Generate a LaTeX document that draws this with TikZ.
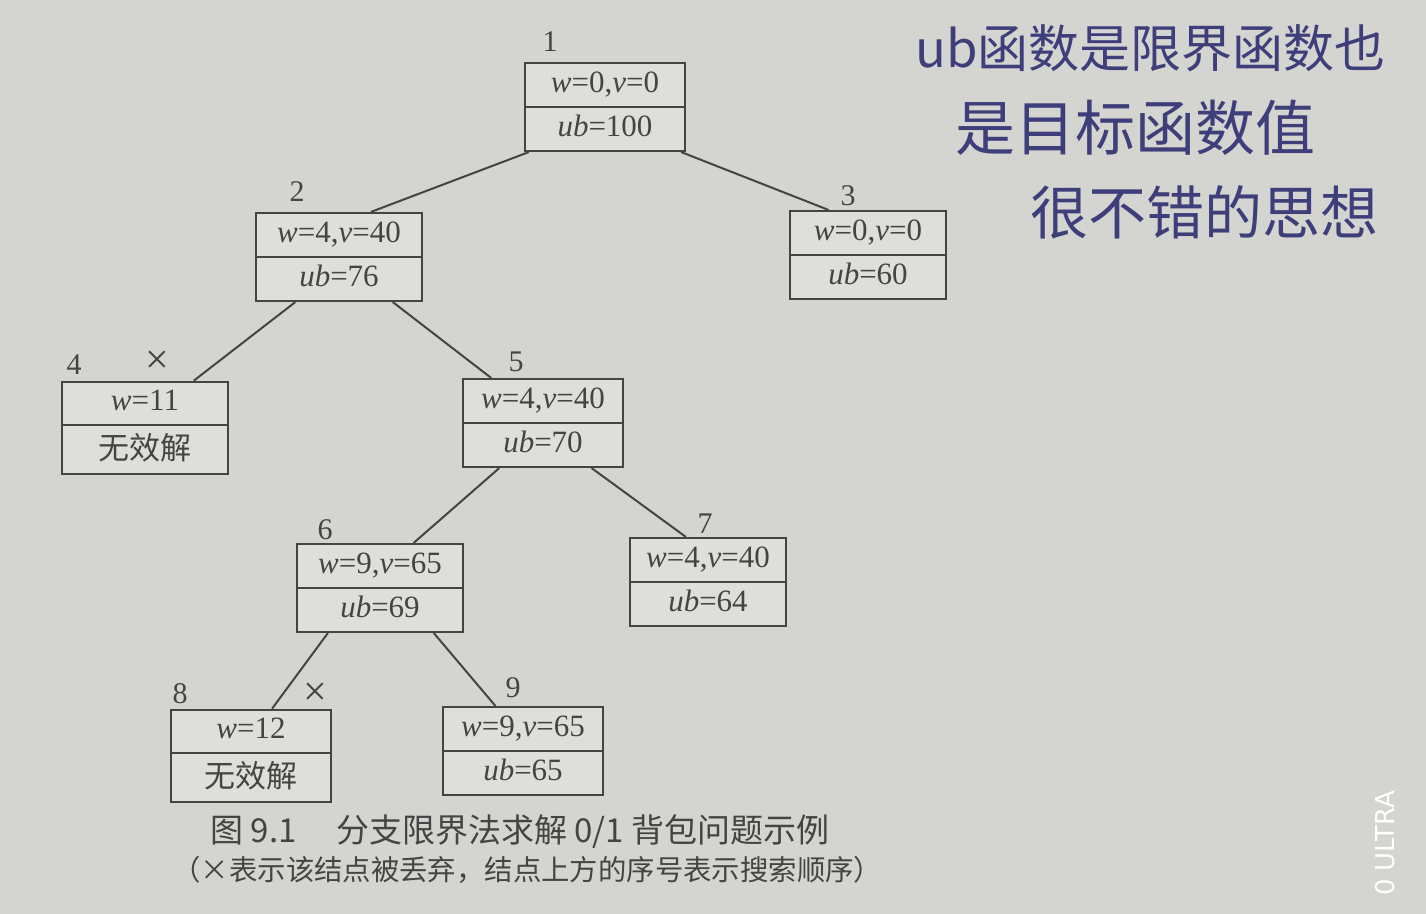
\documentclass[tikz,border=0pt]{standalone}
\usepackage{fontspec}
\setmainfont{Liberation Serif}
\newfontfamily\cjk{Noto Sans CJK SC}
\newfontfamily\markfont{DejaVu Sans}
\usetikzlibrary{shapes.multipart}
\usetikzlibrary{calc}

\definecolor{paper}{RGB}{212,212,208}
\definecolor{boxpaper}{RGB}{222,222,218}
\definecolor{ink}{RGB}{68,68,68}
\definecolor{pen}{RGB}{62,62,122}

\newcommand{\wvpair}[2]{\textit{w}=#1,\textit{v}=#2}
\newcommand{\partstrut}{\rule[-3pt]{0pt}{12pt}}

\begin{document}
\begin{tikzpicture}[x=0.5pt, y=-0.5pt,
    box/.style={rectangle split, rectangle split parts=2, draw=ink, line width=1pt, fill=boxpaper, text=ink,
      text width=70pt, inner xsep=5pt, inner ysep=3.75pt, align=center, font=\fontsize{15.5}{15}\selectfont},
    widebox/.style={box, text width=73pt},
    slimbox/.style={box, text width=68pt},
    num/.style={inner sep=0pt, text=ink, font=\fontsize{15}{17}\selectfont},
    cross/.style={inner sep=0pt, text=ink, font=\fontsize{21}{21}\selectfont},
    edge/.style={draw=ink, line width=1pt},
    note/.style={anchor=west, inner sep=0pt, text=pen}
  ]
    \fill[paper] (0,0) rectangle (1426,914);
    \useasboundingbox (0,0) rectangle (1426,914);

    % search tree
    \node[box] (n1) at (605,107) {\wvpair{0}{0}\partstrut \nodepart{two} \textit{ub}=100\partstrut};
    \node[widebox] (n2) at (339,257) {\wvpair{4}{40}\partstrut \nodepart{two} \textit{ub}=76\partstrut};
    \node[slimbox] (n3) at (868,255) {\wvpair{0}{0}\partstrut \nodepart{two} \textit{ub}=60\partstrut};
    \node[widebox] (n4) at (145,428) {\textit{w}=11\partstrut \nodepart{two} {\cjk 无效解}\partstrut};
    \node[box] (n5) at (543,423) {\wvpair{4}{40}\partstrut \nodepart{two} \textit{ub}=70\partstrut};
    \node[widebox] (n6) at (380,588) {\wvpair{9}{65}\partstrut \nodepart{two} \textit{ub}=69\partstrut};
    \node[slimbox] (n7) at (708,582) {\wvpair{4}{40}\partstrut \nodepart{two} \textit{ub}=64\partstrut};
    \node[box] (n8) at (251,756) {\textit{w}=12\partstrut \nodepart{two} {\cjk 无效解}\partstrut};
    \node[box] (n9) at (523,751) {\wvpair{9}{65}\partstrut \nodepart{two} \textit{ub}=65\partstrut};

    % search order and discarded marks
    \node[num] (o1) at (550,42) {1};
    \node[num] (o2) at (297,192) {2};
    \node[num] (o3) at (848,196) {3};
    \node[num] (o4) at (74,365) {4};
    \node[cross] (x4) at (157,362) {×};
    \node[num] (o5) at (516,362) {5};
    \node[num] (o6) at (325,530) {6};
    \node[num] (o7) at (705,524) {7};
    \node[num] (o8) at (180,694) {8};
    \node[cross] (x8) at (315,694) {×};
    \node[num] (o9) at (513,688) {9};

    \draw[edge] ($(n1.south west)!.03!(n1.south east)$) -- ($(n2.north west)!.69!(n2.north east)$);
    \draw[edge] ($(n1.south west)!.97!(n1.south east)$) -- ($(n3.north west)!.25!(n3.north east)$);
    \draw[edge] ($(n2.south west)!.24!(n2.south east)$) -- ($(n4.north west)!.79!(n4.north east)$);
    \draw[edge] ($(n2.south west)!.82!(n2.south east)$) -- ($(n5.north west)!.18!(n5.north east)$);
    \draw[edge] ($(n5.south west)!.23!(n5.south east)$) -- ($(n6.north west)!.70!(n6.north east)$);
    \draw[edge] ($(n5.south west)!.80!(n5.south east)$) -- ($(n7.north west)!.36!(n7.north east)$);
    \draw[edge] ($(n6.south west)!.19!(n6.south east)$) -- ($(n8.north west)!.63!(n8.north east)$);
    \draw[edge] ($(n6.south west)!.82!(n6.south east)$) -- ($(n9.north west)!.33!(n9.north east)$);

    % caption
    \node[anchor=west, inner sep=0pt, text=ink, font=\cjk\fontsize{16.5}{18}\selectfont] (title) at (210,832)
      {图 9.1\hspace{1.2em}分支限界法求解 0/1 背包问题示例};
    \node[anchor=west, inner sep=0pt, text=ink, font=\cjk\fontsize{14.2}{16}\selectfont] (remark) at (172,870)
      {（×表示该结点被丢弃，结点上方的序号表示搜索顺序）};

    % handwritten note
    \node[note, font=\cjk\fontsize{25.5}{30}\selectfont] (h1) at (915,48) {ub函数是限界函数也};
    \node[note, font=\cjk\fontsize{30}{32}\selectfont] (h2) at (955,128) {是目标函数值};
    \node[note, font=\cjk\fontsize{29}{32}\selectfont] (h3) at (1030,212) {很不错的思想};

    % camera mark
    \node[anchor=east, rotate=90, inner sep=0pt, text=white, font=\markfont\fontsize{13}{15}\selectfont] (cam) at (1385,790) {0 ULTRA};
\end{tikzpicture}
\end{document}
